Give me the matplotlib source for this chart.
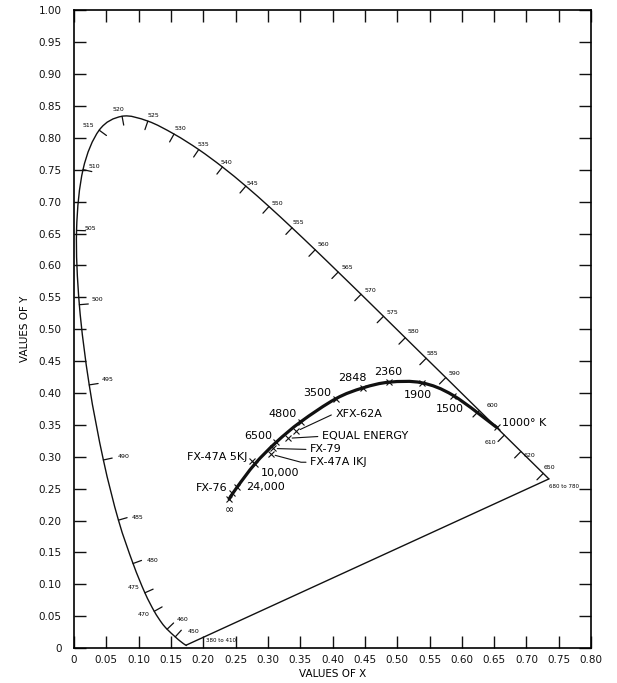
import numpy as np
import matplotlib.pyplot as plt
from matplotlib.path import Path
from matplotlib.patches import PathPatch

# spectral locus, read along the horseshoe (nm -> x, y)
wavelength = [380, 410, 440, 450, 460, 465, 470, 475, 480, 485, 490, 495, 500, 505,
              510, 515, 520, 525, 530, 535, 540, 545, 550, 555, 560, 565, 570, 575,
              580, 585, 590, 595, 600, 605, 610, 620, 630, 640, 650, 680, 780]
locus_x = [0.1741, 0.1726, 0.1644, 0.1566, 0.1440, 0.1355, 0.1241, 0.1096, 0.0913,
           0.0687, 0.0454, 0.0235, 0.0082, 0.0039, 0.0139, 0.0389, 0.0743, 0.1142,
           0.1547, 0.1929, 0.2296, 0.2658, 0.3016, 0.3373, 0.3731, 0.4087, 0.4441,
           0.4788, 0.5125, 0.5448, 0.5752, 0.6029, 0.6270, 0.6482, 0.6658, 0.6915,
           0.7079, 0.7190, 0.7260, 0.7347, 0.7347]
locus_y = [0.0050, 0.0048, 0.0109, 0.0177, 0.0297, 0.0399, 0.0578, 0.0868, 0.1327,
           0.2007, 0.2950, 0.4127, 0.5384, 0.6548, 0.7502, 0.8120, 0.8338, 0.8262,
           0.8059, 0.7816, 0.7543, 0.7243, 0.6923, 0.6589, 0.6245, 0.5896, 0.5547,
           0.5202, 0.4866, 0.4544, 0.4242, 0.3965, 0.3725, 0.3514, 0.3340, 0.3083,
           0.2920, 0.2809, 0.2740, 0.2653, 0.2653]

# labelled wavelengths
tick_wl = [450, 460, 470, 475, 480, 485, 490, 495, 500, 505, 510, 515, 520, 525, 530,
           535, 540, 545, 550, 555, 560, 565, 570, 575, 580, 585, 590, 600, 610, 620, 650]

# black body locus
temp_labels = ["∞", "24,000", "10,000", "6500", "4800", "3500", "2848", "2360",
               "1900", "1500", "1000° K"]
planck_x = [0.240, 0.252, 0.280, 0.313, 0.351, 0.405, 0.447, 0.488, 0.538, 0.587, 0.654]
planck_y = [0.234, 0.252, 0.289, 0.323, 0.355, 0.391, 0.408, 0.417, 0.416, 0.396, 0.346]

# sources
source_names = ["FX-76", "FX-47A 5KJ", "FX-47A IKJ", "FX-79", "EQUAL ENERGY", "XFX-62A"]
source_x = [0.245, 0.276, 0.305, 0.308, 0.331, 0.344]
source_y = [0.243, 0.293, 0.304, 0.313, 0.329, 0.340]

# label offsets in pixels
wl_off = {450: (18, 5), 460: (15, 10), 470: (-11, -3), 475: (-11, 5), 480: (20, 3),
          485: (19, 3), 490: (20, 3), 495: (18, 5), 500: (18, 5), 505: (14, 2),
          510: (11, 3), 515: (-11, 5), 520: (-4, 7), 525: (6, 6), 530: (6, 6),
          535: (5, 5), 540: (4, 4), 545: (7, 3), 550: (8, 3), 555: (6, 5),
          560: (8, 5), 565: (9, 5), 570: (9, 4), 575: (9, 4), 580: (8, 6),
          585: (6, 5), 590: (9, 4), 600: (13, 5), 610: (-14, -7), 620: (9, -4),
          650: (6, 6)}
temp_off = [(0, -11, "center"), (9, 0, "left"), (6, -9, "left"), (-18, 6, "center"),
            (-18, 8, "center"), (-19, 6, "center"), (-11, 10, "center"),
            (-1, 10, "center"), (-4, -12, "center"), (-4, -13, "center"), (5, 4, "left")]


def smooth_path(xs, ys):
    # catmull-rom through the points, drawn as cubic bezier pieces
    p = np.column_stack([xs, ys])
    verts = [p[0]]
    codes = [Path.MOVETO]
    n = len(p)
    for i in range(n - 1):
        p0 = p[i - 1] if i > 0 else p[i]
        p1, p2 = p[i], p[i + 1]
        p3 = p[i + 2] if i + 2 < n else p[i + 1]
        verts += [p1 + (p2 - p0) / 6, p2 - (p3 - p1) / 6, p2]
        codes += [Path.CURVE4] * 3
    return Path(verts, codes)


fig = plt.figure(figsize=(6.17, 6.83), dpi=100)
ax = fig.add_axes([0.120, 0.051, 0.838, 0.934])
ax.set_xlim(0, 0.80)
ax.set_ylim(0, 1.00)

xt = np.arange(0, 0.801, 0.05)
yt = np.arange(0, 1.001, 0.05)
ax.set_xticks(xt)
ax.set_yticks(yt)
ax.set_xticklabels(["0" if v == 0 else "%.2f" % v for v in xt])
ax.set_yticklabels(["0" if v == 0 else "%.2f" % v for v in yt])
ax.tick_params(direction="in", length=8.5, width=1.0, top=True, right=True,
               labelsize=7.5, colors="#111111")
ax.tick_params(axis="y", pad=9)
ax.tick_params(axis="x", pad=5)
for s in ax.spines.values():
    s.set_linewidth(1.2)
ax.set_xlabel("VALUES OF X", fontsize=7.5, labelpad=3)
ax.set_ylabel("VALUES OF Y", fontsize=7.5, labelpad=6)

# horseshoe and purple line
ax.add_patch(PathPatch(smooth_path(locus_x[:-1], locus_y[:-1]), fill=False,
                       ec="#111111", lw=1.0))
ax.plot([locus_x[0], locus_x[-1]], [locus_y[0], locus_y[-1]], color="#111111", lw=1.0)

# wavelength ticks and labels
sx, sy = 646.0, 638.0
for wl in tick_wl:
    i = wavelength.index(wl)
    dx = (locus_x[i + 1] - locus_x[i - 1]) * sx
    dy = (locus_y[i + 1] - locus_y[i - 1]) * sy
    n = np.hypot(dx, dy)
    nx, ny = dy / n, -dx / n
    ax.annotate("", xy=(locus_x[i], locus_y[i]), xytext=(nx * 9, ny * 9),
                textcoords="offset pixels",
                arrowprops=dict(arrowstyle="-", lw=0.9, color="#111111",
                                shrinkA=0, shrinkB=0))
    ox, oy = wl_off[wl]
    ax.annotate(str(wl), xy=(locus_x[i], locus_y[i]), xytext=(ox, oy),
                textcoords="offset pixels", fontsize=4.5, ha="center", va="center")

ax.annotate("380 to 410", xy=(locus_x[0], locus_y[0]), xytext=(34, 4),
            textcoords="offset pixels", fontsize=4, ha="center", va="center")
ax.annotate("680 to 780", xy=(locus_x[-1], locus_y[-1]), xytext=(15, -8),
            textcoords="offset pixels", fontsize=4, ha="center", va="center")

# black body curve
ax.add_patch(PathPatch(smooth_path(planck_x, planck_y), fill=False,
                       ec="#111111", lw=2.3, capstyle="round"))
ax.plot(planck_x, planck_y, "x", color="#111111", ms=4, mew=0.8)
for t, x, y, (ox, oy, ha) in zip(temp_labels, planck_x, planck_y, temp_off):
    ax.annotate(t, xy=(x, y), xytext=(ox, oy), textcoords="offset pixels",
                fontsize=8, ha=ha, va="center")

# sources
ax.plot(source_x, source_y, "x", color="#111111", ms=4, mew=0.8)
ax.annotate(source_names[0], xy=(source_x[0], source_y[0]), xytext=(-5, 5),
            textcoords="offset pixels", fontsize=8, ha="right", va="center")
ax.annotate(source_names[1], xy=(source_x[1], source_y[1]), xytext=(-5, 4),
            textcoords="offset pixels", fontsize=8, ha="right", va="center")
lead = [(39, -8, "angle,angleA=0,angleB=-15,rad=0"),
        (37, -1, "arc3"),
        (34, 2, "arc3"),
        (39, 17, "angle,angleA=0,angleB=25,rad=0")]
for name, x, y, (ox, oy, cs) in zip(source_names[2:], source_x[2:], source_y[2:], lead):
    ax.annotate(name, xy=(x, y), xytext=(ox, oy), textcoords="offset pixels",
                fontsize=8, ha="left", va="center",
                arrowprops=dict(arrowstyle="-", lw=0.8, color="#111111",
                                relpos=(0, 0.5), shrinkA=1, shrinkB=3,
                                connectionstyle=cs))

fig.savefig("out.png", dpi=100)
